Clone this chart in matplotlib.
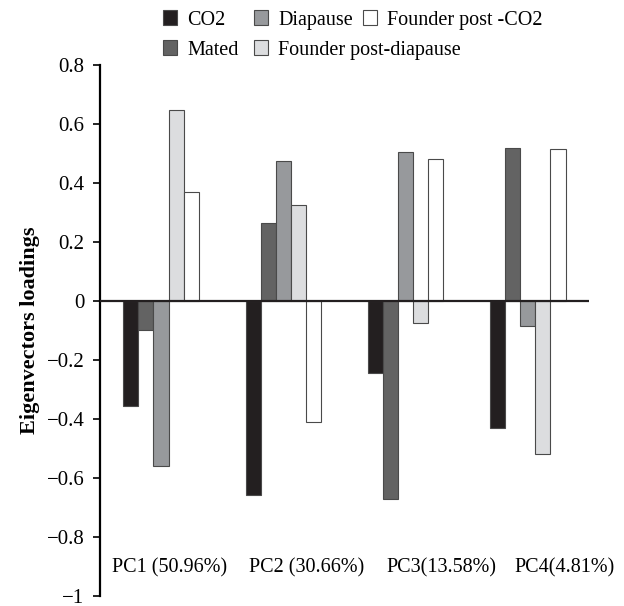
import matplotlib.pyplot as plt
import numpy as np

groups = ["PC1 (50.96%)", "PC2 (30.66%)", "PC3(13.58%)", "PC4(4.81%)"]
series = ["CO2", "Mated", "Diapause", "Founder post-diapause", "Founder post -CO2"]
co2 = [-0.355, -0.657, -0.244, -0.43]
mated = [-0.10, 0.264, -0.671, 0.519]
diapause = [-0.56, 0.475, 0.505, -0.085]
founder_dia = [0.648, 0.325, -0.075, -0.52]
founder_co2 = [0.37, -0.41, 0.48, 0.515]
colors = ["#231f20", "#636363", "#97999c", "#dcdddf", "#ffffff"]

plt.rcParams['font.family'] = ['Liberation Serif', 'DejaVu Serif']

fig = plt.figure(figsize=(6.24, 6.06), dpi=100)
ax = fig.add_axes([0.16, 0.0165, 0.784, 0.8765])

x = np.arange(len(groups))
w = 0.123
vals = [co2, mated, diapause, founder_dia, founder_co2]
bars = []
for i, (name, v) in enumerate(zip(series, vals)):
    b = ax.bar(x + (i - 2) * w, v, width=w, color=colors[i], edgecolor="#4a4a4a",
               linewidth=0.8, label=name, zorder=2)
    bars.append(b)

ax.axhline(0, color="#231f20", lw=1.6, zorder=3)
ax.set_xlim(-0.5, 3.5)
ax.set_ylim(-1, 0.8)
ticks = np.round(np.arange(-1, 0.81, 0.2), 1)
ax.set_yticks(ticks)
ax.set_yticklabels(["0" if t == 0 else ("\u22121" if t == -1 else f"{t:.1f}".replace("-", "\u2212")) for t in ticks])
ax.tick_params(axis="y", labelsize=15, length=5, width=1.2, direction="out", pad=6)
ax.set_xticks([])
for s in ["top", "right", "bottom"]:
    ax.spines[s].set_visible(False)
ax.spines["left"].set_linewidth(1.6)
ax.set_ylabel("Eigenvectors loadings", fontsize=16, fontweight="bold", labelpad=5)

# category labels sit inside the plot, slightly right of each group
label_shift = [0.074, 0.19, 0.29, 0.30]
for xi, s, g in zip(x, label_shift, groups):
    ax.text(xi + s, -0.905, g, ha="center", va="center", fontsize=14.5)

# legend entries placed individually (left x in pixels, row y in pixels)
legend_pos = [(163, 20), (163, 50), (254, 20), (254, 50), (363, 20)]
W, H = 624, 606
for b, name, (px, py) in zip(bars, series, legend_pos):
    fig.legend(handles=[b], labels=[name], loc="center left",
               bbox_to_anchor=(px / W, 1 - py / H), frameon=False,
               fontsize=14.5, handlelength=0.7, handleheight=0.7,
               handletextpad=0.5, borderpad=0, borderaxespad=0)

fig.savefig("out.png", dpi=100)
